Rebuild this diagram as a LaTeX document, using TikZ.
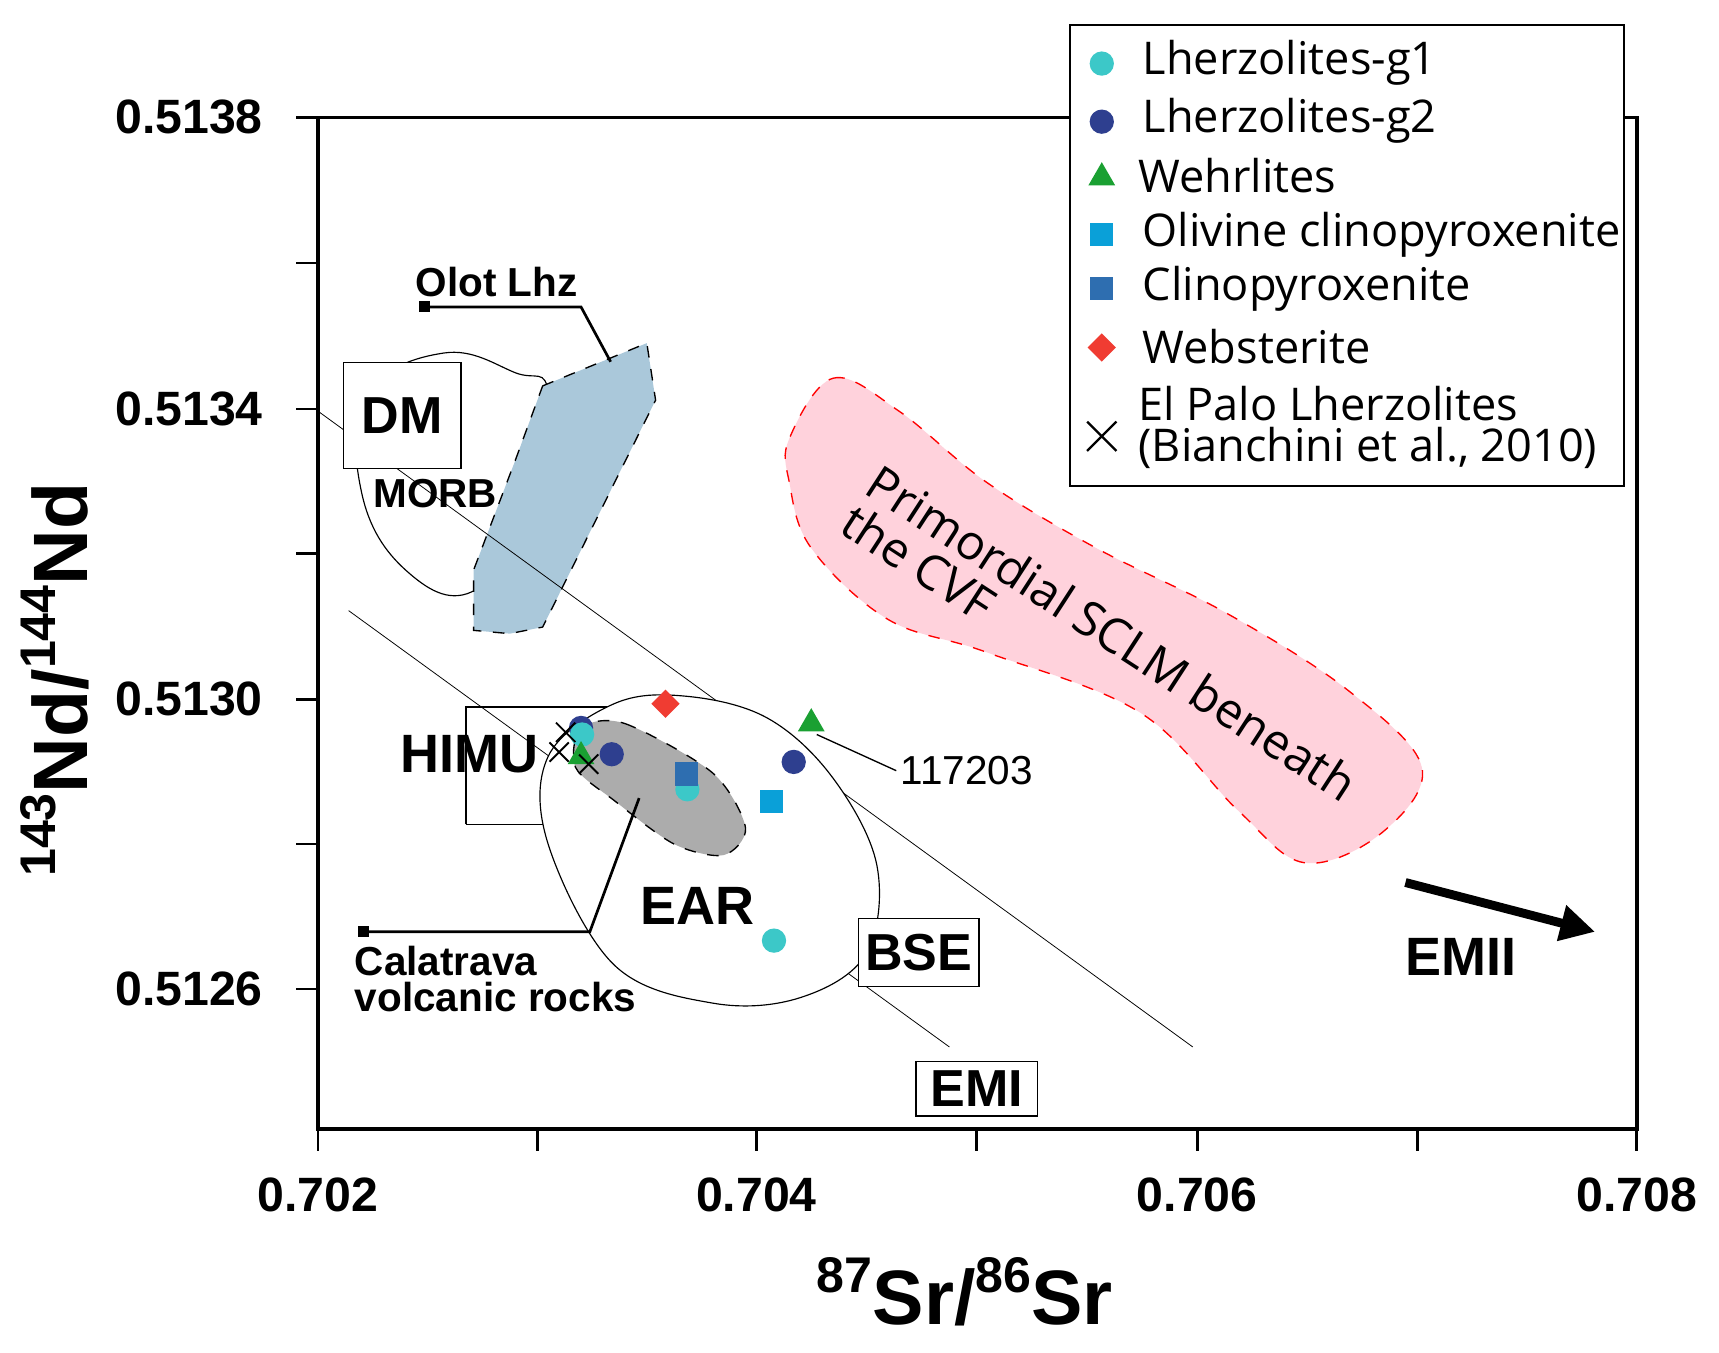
\documentclass[tikz,border=0pt]{standalone}
\usepackage{fontspec}
\setmainfont{Liberation Sans}
\newfontfamily\legf{Open Sans}
\usetikzlibrary{arrows.meta,shapes.geometric,shapes.misc}
\definecolor{gone}{HTML}{3CC8C8}
\definecolor{gtwo}{HTML}{2E3F8F}
\definecolor{wgreen}{HTML}{1AA032}
\definecolor{ocpx}{HTML}{0AA0D8}
\definecolor{cpx}{HTML}{2E6EB0}
\definecolor{webs}{HTML}{F03C32}
\definecolor{sclm}{HTML}{FFD2DC}
\definecolor{olot}{HTML}{AAC8DA}
\tikzset{
 tk/.style={font=\bfseries\fontsize{12.5}{12.5}\selectfont},
 lab/.style={font=\bfseries\fontsize{10.5}{10.5}\selectfont},
 bx/.style={draw,fill=white,line width=0.35pt,font=\bfseries\fontsize{13.5}{13.5}\selectfont,inner sep=1pt},
 lg/.style={font=\legf\fontsize{11.7}{11.7}\selectfont,anchor=west},
 dotA/.style={circle,fill=gone,inner sep=0pt,minimum size=6.3pt},
 dotB/.style={circle,fill=gtwo,inner sep=0pt,minimum size=6.3pt},
 tri/.style={regular polygon,regular polygon sides=3,fill=wgreen,inner sep=0pt,minimum size=8pt},
 sqA/.style={rectangle,fill=ocpx,inner sep=0pt,minimum size=6pt},
 sqB/.style={rectangle,fill=cpx,inner sep=0pt,minimum size=6pt},
 dia/.style={diamond,fill=webs,inner sep=0pt,minimum size=7.5pt},
 xm/.style={cross out,draw,line width=0.5pt,inner sep=0pt,minimum size=4.5pt},
}
\begin{document}
\begin{tikzpicture}[x=0.01cm,y=-0.01cm]
\useasboundingbox (0,0) rectangle (1568,1234);
% regions
\draw[fill=sclm,draw=red,dashed,line width=0.35pt] plot[smooth cycle,tension=0.6] coordinates{(720,400)(760,345)(820,375)(900,440)(1000,500)(1120,560)(1230,630)(1297,700)(1260,760)(1190,787)(1130,740)(1040,650)(900,595)(810,565)(740,500)(720,440)};
\draw[line width=0.3pt] plot[smooth cycle,tension=0.7] coordinates{(405,322)(470,340)(500,360)(480,470)(430,540)(370,520)(330,450)(335,360)};
\draw[fill=olot,dashed,line width=0.35pt] (495,352) -- (590,313) -- (598,365) -- (495,572) -- (465,578) -- (432,575) -- (432,520) -- (470,420) -- cycle;
\draw[line width=0.2pt] (290,375) -- (1088,955);
\draw[line width=0.2pt] (318,557) -- (866,955);
\draw[line width=0.35pt] (425,752) -- (425,645) -- (570,645);
\draw[line width=0.35pt] (425,752) -- (500,752);
\draw[fill=white,line width=0.3pt] plot[smooth cycle,tension=0.6] coordinates{(500,690)(560,642)(625,635)(700,655)(760,710)(800,790)(790,870)(730,910)(650,915)(560,880)(500,770)};
\draw[fill=gray!65,dashed,line width=0.35pt] plot[smooth cycle,tension=0.5] coordinates{(530,664)(570,660)(650,705)(680,755)(660,780)(615,770)(560,730)(525,700)};
% frame
\draw[line width=0.9pt] (290,107) rectangle (1493,1030);
\foreach \x/\l in {290/0.702,490/,690/0.704,891/,1092/0.706,1293/,1493/0.708}{
 \draw[line width=0.7pt] (\x,1030) -- (\x,1050);
 \node[tk] at (\x,1090) {\l};}
\foreach \y/\l in {107/0.5138,240/,373/0.5134,505/,638/0.5130,770/,902/0.5126}{
 \draw[line width=0.7pt] (290,\y) -- (270,\y);
 \node[tk,anchor=east] at (252,\y) {\l};}
\node[font=\bfseries\fontsize{20}{20}\selectfont,rotate=90] (yl) at (50,620) {\fontsize{13}{13}\selectfont\raisebox{1.2ex}{143}\fontsize{20}{20}\selectfont Nd/\fontsize{13}{13}\selectfont\raisebox{1.2ex}{144}\fontsize{20}{20}\selectfont Nd};
\node[font=\bfseries\fontsize{20}{20}\selectfont] (xl) at (880,1178) {\fontsize{13}{13}\selectfont\raisebox{1.2ex}{87}\fontsize{20}{20}\selectfont Sr/\fontsize{13}{13}\selectfont\raisebox{1.2ex}{86}\fontsize{20}{20}\selectfont Sr};
% labels
\node[bx,minimum width=30.4pt,minimum height=27.6pt] (dm) at (367,379) {DM};
\node[lab] (morb) at (397,450) {MORB};
\node[lab] (olot) at (453,257) {Olot Lhz};
\coordinate (o1) at (387,280); \coordinate (o2) at (557,330);
\fill (o1) ++(-5,-5) rectangle ++(10,10);
\draw[line width=0.7pt] (o1) -- (530,280) -- (o2);
\node[font=\bfseries\fontsize{14}{14}\selectfont] (himu) at (428,688) {HIMU};
\node[font=\bfseries\fontsize{14}{14}\selectfont] (ear) at (636,826) {EAR};
\node[lab,align=left,anchor=north west,inner sep=0pt] (cal) at (323,862) {Calatrava\\[-1pt]volcanic rocks};
\coordinate (c1) at (332,850); \coordinate (c2) at (583,728);
\fill (c1) ++(-5,-5) rectangle ++(10,10);
\draw[line width=0.7pt] (c1) -- (538,850) -- (c2);
\node[bx,minimum width=31.3pt,minimum height=17.6pt] (bse) at (838,869) {BSE};
\node[bx,minimum width=31.6pt,minimum height=14.2pt] (emi) at (891,993) {EMI};
\node[font=\bfseries\fontsize{14}{14}\selectfont] (emii) at (1333,873) {EMII};
\coordinate (a1) at (1282,805); \coordinate (a2) at (1455,850);
\draw[line width=2.3pt,-{Triangle[length=9pt,width=9pt]}] (a1) -- (a2);
\node[font=\fontsize{10.5}{10.5}\selectfont,inner sep=1pt] (lbl) at (882,703) {117203};
\coordinate (p1) at (745,670);
\draw[line width=0.35pt] (p1) -- (lbl.west);
\node[font=\legf\fontsize{12.5}{12}\selectfont,rotate=-33,align=left,anchor=north west,inner sep=0pt] (sc) at (805,420) {Primordial SCLM beneath\\the CVF};
% data
\node[dia] (w1) at (607,642) {};
\node[dotB] (b1) at (530,664) {};
\node[dotA] (a1p) at (531,670) {};
\node[dotB] (b2) at (558,688) {};
\node[dotB] (b3) at (724,695) {};
\node[dotA] (a2p) at (627,720) {};
\node[dotA] (a3p) at (706,858) {};
\node[sqB] (s2) at (626,706) {};
\node[sqA] (s1) at (704,731) {};
\node[tri] (t1) at (530,690) {};
\node[tri] (t2) at (740,660) {};
\node[xm] (x1) at (516,668) {};
\node[xm] (x2) at (510,686) {};
\node[xm] (x3) at (537,697) {};
% legend
\node[draw,fill=white,line width=0.45pt,minimum width=143.7pt,minimum height=119.5pt,anchor=north west] (leg) at (975,22) {};
\node[dotA] (l1) at (1005,58) {}; \node[lg] at (1030,57) {Lherzolites-g1};
\node[dotB] (l2) at (1005,111) {}; \node[lg] at (1030,110) {Lherzolites-g2};
\node[tri] (l3) at (1005,162) {}; \node[lg] at (1026,160) {Wehrlites};
\node[sqA] (l4) at (1005,214) {}; \node[lg] at (1030,214) {Olivine clinopyroxenite};
\node[sqB] (l5) at (1005,263) {}; \node[lg] at (1030,263) {Clinopyroxenite};
\node[dia] (l6) at (1005,317) {}; \node[lg] at (1030,316) {Websterite};
\node[xm,minimum size=7pt,line width=0.6pt] (l7) at (1005,398) {};
\node[lg,align=left] at (1026,390) {El Palo Lherzolites\\[-1pt](Bianchini et al., 2010)};
\end{tikzpicture}
\end{document}
